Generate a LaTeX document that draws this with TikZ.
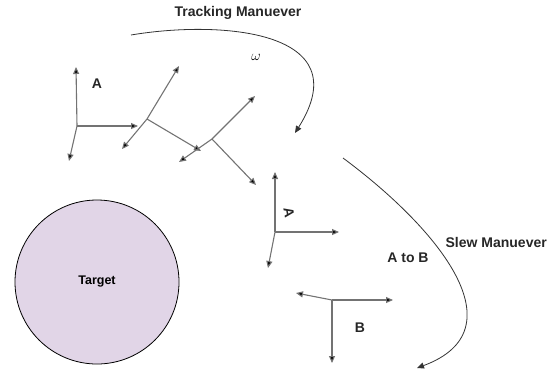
\documentclass[tikz,border=0pt]{standalone}
\usepackage{fontspec}
\setmainfont{Liberation Sans}
\usetikzlibrary{arrows.meta}
\begin{document}
\begin{tikzpicture}[x=1pt,y=-1pt,
  axis/.style={draw=black!55,line width=1.1pt,-{Triangle[length=7pt,width=6pt,fill=black]}},
  maneuver/.style={draw=black!80,line width=0.8pt},
  lbl/.style={font=\bfseries\fontsize{14}{16}\selectfont,text=black!85,inner sep=1pt}]
\useasboundingbox (0,0) rectangle (548,373);

% target body
\node[circle,draw=black,line width=0.8pt,fill={rgb,255:red,225;green,213;blue,231},
      minimum size=164pt,inner sep=0pt] (target) at (97,282) {};
\node[font=\bfseries\fontsize{12.5}{14}\selectfont] (tlabel) at (target.center) {Target};

% body frame A
\coordinate (oA) at (77,126);
\coordinate (a1) at (76,67);
\coordinate (a2) at (138,126);
\coordinate (a3) at (69,161);
\draw[axis] (oA) -- (a1);
\draw[axis] (oA) -- (a2);
\draw[axis] (oA) -- (a3);
\node[lbl] (labA) at (97,84) {A};

% intermediate frame 1
\coordinate (oB) at (147,119);
\coordinate (b1) at (179,66);
\coordinate (b2) at (122,149);
\coordinate (b3) at (201,151);
\draw[axis] (oB) -- (b1);
\draw[axis] (oB) -- (b2);
\draw[axis] (oB) -- (b3);

% intermediate frame 2
\coordinate (oC) at (212,139);
\coordinate (c1) at (255,96);
\coordinate (c2) at (179,162);
\coordinate (c3) at (256,185);
\draw[axis] (oC) -- (c1);
\draw[axis] (oC) -- (c2);
\draw[axis] (oC) -- (c3);

% frame A after tracking
\coordinate (oD) at (275,232);
\coordinate (d1) at (275,172);
\coordinate (d2) at (339,232);
\coordinate (d3) at (268,268);
\draw[axis] (oD) -- (d1);
\draw[axis] (oD) -- (d2);
\draw[axis] (oD) -- (d3);
\node[lbl,rotate=-80] (labA2) at (289,213) {A};

% frame B
\coordinate (oE) at (332,300);
\coordinate (e1) at (296,293);
\coordinate (e2) at (393,300);
\coordinate (e3) at (332,363);
\draw[axis] (oE) -- (e1);
\draw[axis] (oE) -- (e2);
\draw[axis] (oE) -- (e3);
\node[lbl] (labB) at (360,328) {B};

% maneuver paths
\coordinate (t0) at (131,35);
\coordinate (t1) at (295,133);
\draw[maneuver,-{Triangle[length=7pt,width=6pt]}] (t0) .. controls (220,20) and (360,30) .. (t1);
\coordinate (s0) at (343,158);
\coordinate (s1) at (417,368);
\draw[maneuver,-{Triangle[length=7pt,width=6pt]}] (s0) .. controls (440,230) and (520,330) .. (s1);

% labels
\node[lbl] (ttrack) at (238,13) {Tracking Manuever};
\node[font=\fontsize{15}{17}\selectfont] (omega) at (256,57) {$\omega$};
\node[lbl,anchor=east] (tslew) at (548,242) {Slew Manuever};
\node[lbl] (tab) at (408,258) {A to B};
\end{tikzpicture}
\end{document}
